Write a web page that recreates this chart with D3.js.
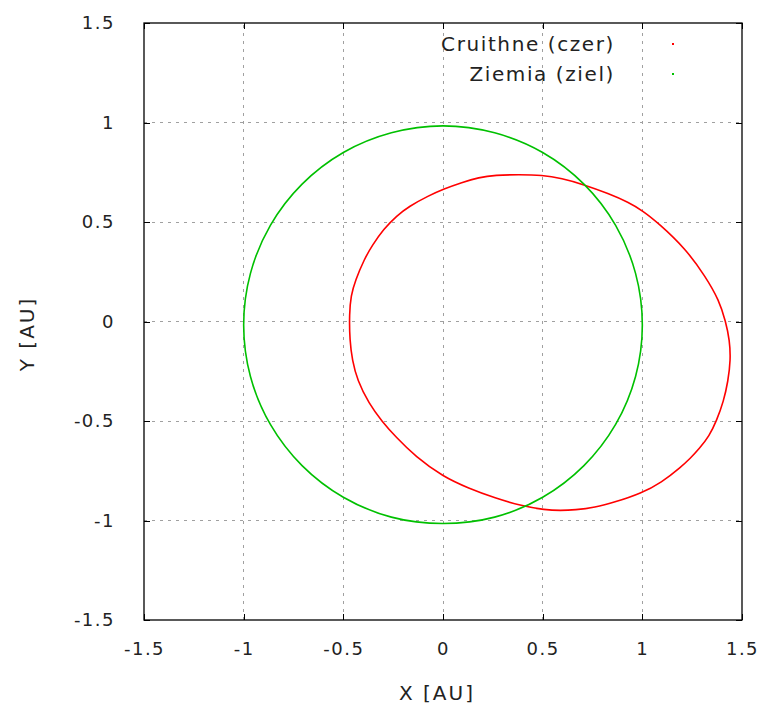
<!DOCTYPE html>
<html>
<head>
<meta charset="utf-8">
<script src="https://cdn.jsdelivr.net/npm/d3@7"></script>
<style>
  html, body { margin: 0; padding: 0; background: #fff; }
  svg { display: block; }
  text { font-family: "DejaVu Sans", sans-serif; fill: #222; }
</style>
</head>
<body>
<svg id="chart" width="764" height="713"></svg>
<script>
// Orbit traces in the ecliptic plane, coordinates in AU
const cruithneX = [1.418, 1.385, 1.318, 1.217, 1.084, 1.000, 0.931, 0.833, 0.697, 0.597, 0.497, 0.380, 0.263, 0.179, 0.095, 0.003, -0.072, -0.172, -0.231, -0.298, -0.356, -0.395, -0.440, -0.462, -0.470, -0.468, -0.455, -0.430, -0.372, -0.305, -0.238, -0.138, 0.000, 0.128, 0.262, 0.395, 0.512, 0.590, 0.662, 0.762, 0.862, 0.995, 1.095, 1.195, 1.240, 1.285, 1.336, 1.372, 1.408, 1.430, 1.443, 1.438];
const cruithneY = [0.000, 0.107, 0.224, 0.366, 0.492, 0.558, 0.599, 0.642, 0.691, 0.719, 0.736, 0.738, 0.736, 0.724, 0.699, 0.666, 0.632, 0.578, 0.532, 0.465, 0.381, 0.313, 0.206, 0.130, 0.038, -0.095, -0.195, -0.295, -0.412, -0.504, -0.579, -0.679, -0.780, -0.838, -0.888, -0.927, -0.947, -0.950, -0.947, -0.935, -0.908, -0.863, -0.810, -0.730, -0.688, -0.640, -0.575, -0.500, -0.400, -0.300, -0.194, -0.094];

const earthX = [1.000, 0.966, 0.866, 0.707, 0.500, 0.259, 0.000, -0.259, -0.500, -0.707, -0.866, -0.966, -1.000, -0.966, -0.866, -0.707, -0.500, -0.259, 0.000, 0.259, 0.500, 0.707, 0.866, 0.966];
const earthY = [-0.017, 0.242, 0.483, 0.690, 0.849, 0.948, 0.983, 0.948, 0.849, 0.690, 0.483, 0.242, -0.017, -0.276, -0.517, -0.724, -0.883, -0.983, -1.015, -0.983, -0.883, -0.724, -0.517, -0.276];

const tickValues = [-1.5, -1, -0.5, 0, 0.5, 1, 1.5];
const tickLabels = ["-1.5", "-1", "-0.5", "0", "0.5", "1", "1.5"];

const seriesNames = ["Cruithne (czer)", "Ziemia (ziel)"];
const seriesColors = ["#ff0000", "#00c000"];

const svg = d3.select("#chart");
const margin = { left: 144, top: 23, right: 764 - 742, bottom: 713 - 620 };
const W = 764 - margin.left - margin.right;
const H = 713 - margin.top - margin.bottom;

const x = d3.scaleLinear().domain([-1.5, 1.5]).range([margin.left, margin.left + W]);
const y = d3.scaleLinear().domain([-1.5, 1.5]).range([margin.top + H, margin.top]);

// dashed grid
const grid = svg.append("g").attr("stroke", "#a0a0a0").attr("stroke-width", 1)
  .attr("stroke-dasharray", "3,5").attr("shape-rendering", "crispEdges");
tickValues.slice(1, -1).forEach(v => {
  grid.append("line").attr("x1", x(v)).attr("x2", x(v)).attr("y1", y(-1.5)).attr("y2", y(1.5));
  grid.append("line").attr("y1", y(v)).attr("y2", y(v)).attr("x1", x(-1.5)).attr("x2", x(1.5));
});

// inward ticks on all four sides
const tickLen = 6;
const fmt = v => tickLabels[tickValues.indexOf(v)];
const axisStyle = g => {
  g.select(".domain").remove();
  g.selectAll(".tick line").attr("stroke", "#000").attr("shape-rendering", "crispEdges");
  g.selectAll("text").attr("font-size", 18).attr("letter-spacing", "1.5px").attr("fill", "#222");
};
svg.append("g").attr("transform", `translate(0,${y(-1.5)})`)
  .call(d3.axisBottom(x).tickValues(tickValues).tickFormat(fmt).tickSizeInner(-tickLen).tickSizeOuter(0).tickPadding(22))
  .call(axisStyle);
svg.append("g").attr("transform", `translate(0,${y(1.5)})`)
  .call(d3.axisTop(x).tickValues(tickValues).tickFormat("").tickSizeInner(-tickLen).tickSizeOuter(0))
  .call(axisStyle);
svg.append("g").attr("transform", `translate(${x(-1.5)},0)`)
  .call(d3.axisLeft(y).tickValues(tickValues).tickFormat(fmt).tickSizeInner(-tickLen).tickSizeOuter(0).tickPadding(29))
  .call(axisStyle);
svg.append("g").attr("transform", `translate(${x(1.5)},0)`)
  .call(d3.axisRight(y).tickValues(tickValues).tickFormat("").tickSizeInner(-tickLen).tickSizeOuter(0))
  .call(axisStyle);

// frame
svg.append("rect").attr("x", x(-1.5)).attr("y", y(1.5)).attr("width", W).attr("height", H)
  .attr("fill", "none").attr("stroke", "#000").attr("stroke-width", 1.3);

// orbits
const line = d3.line().x(d => x(d[0])).y(d => y(d[1])).curve(d3.curveBasisClosed);
const cruithne = cruithneX.map((v, i) => [v, cruithneY[i]]);
const earth = earthX.map((v, i) => [v, earthY[i]]);
const earthLine = d3.line().x(d => x(d[0])).y(d => y(d[1])).curve(d3.curveCatmullRomClosed.alpha(0.5));
svg.append("path").attr("d", line(cruithne)).attr("fill", "none")
  .attr("stroke", seriesColors[0]).attr("stroke-width", 1.6);
svg.append("path").attr("d", earthLine(earth)).attr("fill", "none")
  .attr("stroke", seriesColors[1]).attr("stroke-width", 1.6);

// legend
const legend = svg.append("g");
seriesNames.forEach((name, i) => {
  const ly = 44 + i * 30;
  legend.append("text").attr("x", 615).attr("y", ly).attr("dy", "0.35em")
    .attr("text-anchor", "end").attr("font-size", 20).attr("letter-spacing", "1.6px").text(name);
  legend.append("rect").attr("x", 672).attr("y", ly - 1).attr("width", 2).attr("height", 2)
    .attr("fill", seriesColors[i]);
});

// axis titles
svg.append("text").attr("x", 437).attr("y", 693).attr("dy", "0.35em").attr("text-anchor", "middle")
  .attr("font-size", 20).attr("letter-spacing", "2px").text("X [AU]");
svg.append("text").attr("transform", "translate(27,334) rotate(-90)").attr("dy", "0.35em")
  .attr("text-anchor", "middle").attr("font-size", 20).attr("letter-spacing", "2px").text("Y [AU]");
</script>
</body>
</html>
